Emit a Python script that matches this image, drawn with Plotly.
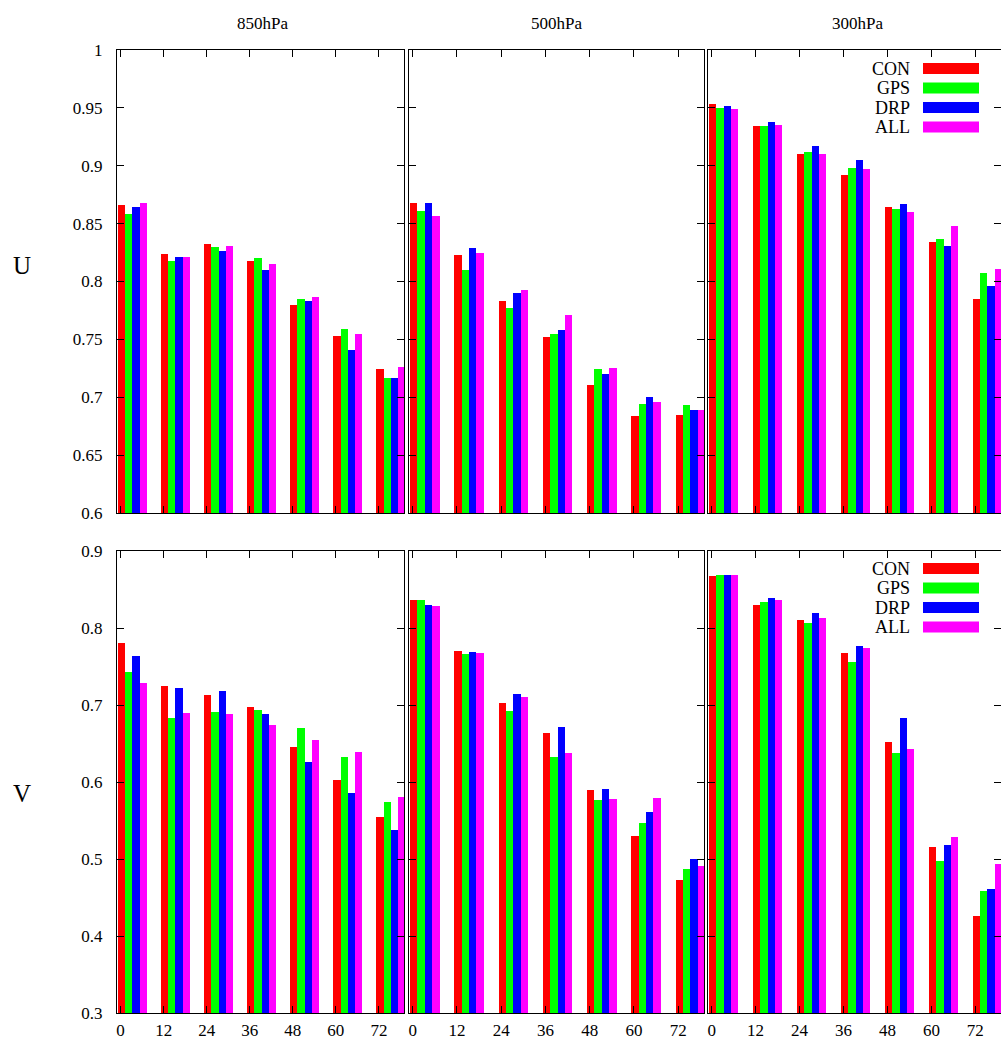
import plotly.graph_objects as go

# ---------------- data ----------------
hours = [0, 12, 24, 36, 48, 60, 72]
series_names = ["CON", "GPS", "DRP", "ALL"]
levels = ["850hPa", "500hPa", "300hPa"]
variables = ["U", "V"]

# U component
u850_con = [0.866, 0.824, 0.832, 0.818, 0.780, 0.753, 0.724]
u850_gps = [0.858, 0.818, 0.830, 0.820, 0.785, 0.759, 0.717]
u850_drp = [0.864, 0.821, 0.826, 0.810, 0.783, 0.741, 0.717]
u850_all = [0.868, 0.821, 0.831, 0.815, 0.787, 0.755, 0.726]

u500_con = [0.868, 0.823, 0.783, 0.752, 0.711, 0.684, 0.685]
u500_gps = [0.861, 0.810, 0.777, 0.755, 0.724, 0.694, 0.693]
u500_drp = [0.868, 0.829, 0.790, 0.758, 0.720, 0.700, 0.689]
u500_all = [0.857, 0.825, 0.793, 0.771, 0.725, 0.696, 0.689]

u300_con = [0.953, 0.934, 0.910, 0.892, 0.864, 0.834, 0.785]
u300_gps = [0.950, 0.934, 0.912, 0.898, 0.863, 0.837, 0.807]
u300_drp = [0.952, 0.938, 0.917, 0.905, 0.867, 0.831, 0.796]
u300_all = [0.949, 0.935, 0.910, 0.897, 0.860, 0.848, 0.811]

# V component
v850_con = [0.781, 0.725, 0.713, 0.698, 0.646, 0.602, 0.554]
v850_gps = [0.743, 0.683, 0.691, 0.693, 0.670, 0.633, 0.574]
v850_drp = [0.763, 0.722, 0.718, 0.688, 0.626, 0.586, 0.538]
v850_all = [0.728, 0.689, 0.688, 0.674, 0.655, 0.639, 0.581]

v500_con = [0.837, 0.770, 0.702, 0.664, 0.590, 0.530, 0.473]
v500_gps = [0.837, 0.766, 0.692, 0.632, 0.577, 0.547, 0.487]
v500_drp = [0.830, 0.769, 0.714, 0.671, 0.591, 0.561, 0.500]
v500_all = [0.828, 0.768, 0.711, 0.638, 0.578, 0.579, 0.491]

v300_con = [0.867, 0.830, 0.810, 0.768, 0.652, 0.515, 0.426]
v300_gps = [0.869, 0.834, 0.807, 0.756, 0.638, 0.498, 0.459]
v300_drp = [0.869, 0.839, 0.819, 0.776, 0.683, 0.518, 0.461]
v300_all = [0.869, 0.836, 0.813, 0.774, 0.643, 0.529, 0.493]

y_ranges = {"U": [0.6, 1.0], "V": [0.3, 0.9]}
y_dticks = {"U": 0.05, "V": 0.1}

panels = {
    ("U", "850hPa"): [u850_con, u850_gps, u850_drp, u850_all],
    ("U", "500hPa"): [u500_con, u500_gps, u500_drp, u500_all],
    ("U", "300hPa"): [u300_con, u300_gps, u300_drp, u300_all],
    ("V", "850hPa"): [v850_con, v850_gps, v850_drp, v850_all],
    ("V", "500hPa"): [v500_con, v500_gps, v500_drp, v500_all],
    ("V", "300hPa"): [v300_con, v300_gps, v300_drp, v300_all],
}

# ---------------- style ----------------
colors = ["#ff0000", "#00ff00", "#0000ff", "#ff00ff"]
FONT = "Liberation Serif, Times New Roman, serif"
W, H = 1001, 1045

col_px = [(117, 404), (409, 704), (708, 1001)]
row_px = [(50, 513), (551, 1013)]


def px_x(p):
    return p / W


def px_y(p):
    return 1 - p / H


BAR_W = 2.0
BAR_OFF0 = -0.7

fig = go.Figure()
layout = dict(
    width=W, height=H,
    margin=dict(l=0, r=0, t=0, b=0, autoexpand=False),
    paper_bgcolor="white", plot_bgcolor="white",
    showlegend=False,
    font=dict(family=FONT, size=16, color="black"),
    bargap=0,
)

annotations = []
shapes = []

idx = 0
for r, var in enumerate(variables):
    for c, lev in enumerate(levels):
        idx += 1
        xa = "x" if idx == 1 else f"x{idx}"
        ya = "y" if idx == 1 else f"y{idx}"
        for s, name in enumerate(series_names):
            fig.add_trace(go.Bar(
                x=hours, y=panels[(var, lev)][s], name=name,
                width=BAR_W, offset=BAR_OFF0 + BAR_W * s,
                marker=dict(color=colors[s], line=dict(width=0)),
                xaxis=xa, yaxis=ya, showlegend=False,
            ))
        x0, x1 = col_px[c]
        y0, y1 = row_px[r]
        layout["xaxis" if idx == 1 else f"xaxis{idx}"] = dict(
            domain=[px_x(x0), px_x(x1)], anchor=ya, automargin=False,
            range=[-1, 79], tickvals=hours, ticktext=[str(h) for h in hours],
            ticks="inside", ticklen=7, tickcolor="black",
            showline=True, linecolor="black", linewidth=1.2, mirror="ticks",
            showgrid=False, zeroline=False,
            showticklabels=(r == 1), ticklabelstandoff=1,
            tickfont=dict(family=FONT, size=17),
        )
        layout["yaxis" if idx == 1 else f"yaxis{idx}"] = dict(
            domain=[px_y(y1), px_y(y0)], anchor=xa, automargin=False,
            range=y_ranges[var], dtick=y_dticks[var], tick0=0,
            ticks="inside", ticklen=7, tickcolor="black",
            showline=True, linecolor="black", linewidth=1.2, mirror="ticks",
            showgrid=False, zeroline=False,
            showticklabels=(c == 0), ticklabelstandoff=10,
            tickfont=dict(family=FONT, size=17),
        )

# column titles
col_title_px = [262, 556, 857]
for c, lev in enumerate(levels):
    annotations.append(dict(
        x=px_x(col_title_px[c]), y=px_y(23), xref="paper", yref="paper",
        text=lev, showarrow=False, xanchor="center", yanchor="middle",
        font=dict(family=FONT, size=17),
    ))

# row labels
row_label_py = [265, 793]
for r, var in enumerate(variables):
    annotations.append(dict(
        x=px_x(22), y=px_y(row_label_py[r]), xref="paper", yref="paper",
        text=var, showarrow=False, xanchor="center", yanchor="middle",
        font=dict(family=FONT, size=25),
    ))

# legends (text left of colour swatch), in the 300hPa panels
legend_top_py = [68.5, 568.5]
for r in range(2):
    for s, name in enumerate(series_names):
        cy = legend_top_py[r] + 19.5 * s
        annotations.append(dict(
            x=px_x(912), y=px_y(cy), xref="paper", yref="paper",
            text=name, showarrow=False, xanchor="right", yanchor="middle",
            font=dict(family=FONT, size=18),
        ))
        shapes.append(dict(
            type="rect", xref="paper", yref="paper",
            x0=px_x(923), x1=px_x(979), y0=px_y(cy + 5.5), y1=px_y(cy - 5.5),
            fillcolor=colors[s], line=dict(width=0),
        ))

layout["annotations"] = annotations
layout["shapes"] = shapes
fig.update_layout(**layout)
fig.write_html("out.html")
